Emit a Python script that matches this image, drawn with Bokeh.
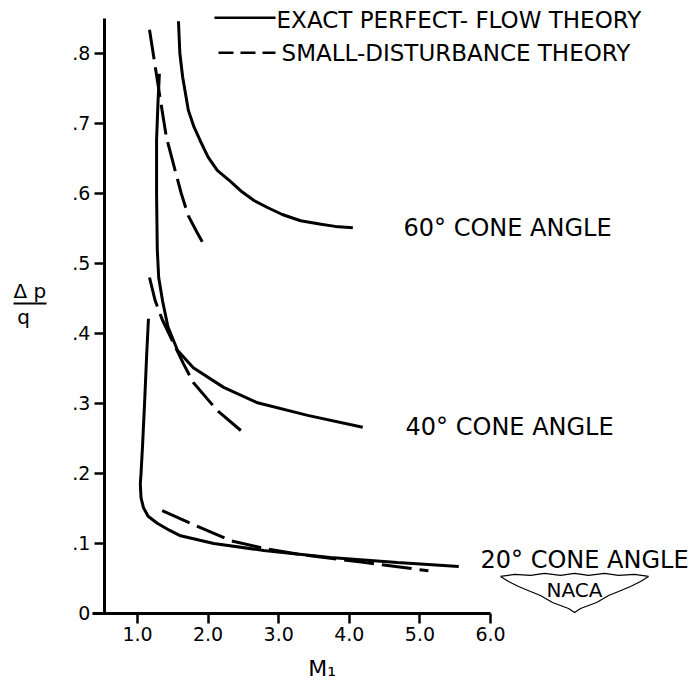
from bokeh.plotting import figure
from bokeh.models import Range1d, FixedTicker, PrintfTickFormatter, CustomJSTickFormatter, LinearAxis
from bokeh.core.properties import value
from bokeh.embed import file_html
from bokeh.resources import INLINE

# ---------------- data ----------------
# 60 deg cone
m60_exact = [1.58, 1.60, 1.64, 1.72, 1.80, 1.89, 2.00, 2.13, 2.32, 2.46, 2.65, 2.84, 3.05, 3.31, 3.60, 3.80, 4.05]
dp60_exact = [0.846, 0.80, 0.766, 0.719, 0.695, 0.675, 0.652, 0.633, 0.617, 0.604, 0.590, 0.580, 0.570, 0.561, 0.556, 0.553, 0.551]
m60_small = [1.17, 1.23, 1.33, 1.41, 1.54, 1.62, 1.72, 1.84, 1.95]
dp60_small = [0.834, 0.795, 0.730, 0.680, 0.630, 0.600, 0.568, 0.545, 0.525]

# 40 deg cone
m40_exact = [1.31, 1.29, 1.27, 1.27, 1.28, 1.30, 1.354, 1.43, 1.566, 1.79, 2.22, 2.70, 3.41, 4.19]
dp40_exact = [0.771, 0.73, 0.676, 0.60, 0.52, 0.48, 0.447, 0.41, 0.376, 0.351, 0.323, 0.301, 0.283, 0.266]
m40_small = [1.17, 1.25, 1.35, 1.51, 1.65, 1.79, 2.13, 2.55]
dp40_small = [0.48, 0.447, 0.42, 0.386, 0.357, 0.33, 0.29, 0.254]

# 20 deg cone
m20_exact = [1.155, 1.13, 1.10, 1.07, 1.05, 1.04, 1.05, 1.085, 1.15, 1.28, 1.45, 1.61, 2.08, 2.79, 3.73, 4.68, 5.55]
dp20_exact = [0.421, 0.37, 0.30, 0.237, 0.20, 0.185, 0.165, 0.151, 0.139, 0.129, 0.119, 0.111, 0.100, 0.090, 0.080, 0.073, 0.067]
m20_small = [1.35, 1.75, 2.32, 2.79, 3.26, 4.20, 5.12]
dp20_small = [0.147, 0.129, 0.104, 0.093, 0.085, 0.073, 0.061]

x_ticks = [1, 2, 3, 4, 5, 6]
y_ticks = [0, 0.1, 0.2, 0.3, 0.4, 0.5, 0.6, 0.7, 0.8]

legend_labels = ["EXACT PERFECT- FLOW THEORY", "SMALL-DISTURBANCE THEORY"]
cone_labels = ["60\u00b0 CONE ANGLE", "40\u00b0 CONE ANGLE", "20\u00b0 CONE ANGLE"]

# ---------------- figure ----------------
FONT = "DejaVu Sans"
SX = 70.6   # px per Mach unit
SY = 700.0  # px per unit dp/q

p = figure(width=693, height=682, output_backend="svg", toolbar_location=None,
           x_range=Range1d(-0.9405, 8.875), y_range=Range1d(-0.0986, 0.8757),
           x_axis_type=None, y_axis_type=None, min_border=0,
           outline_line_color=None, title=None)
p.background_fill_color = "white"
p.border_fill_color = "white"

def style_axis(ax):
    ax.axis_line_width = 3
    ax.axis_line_color = "black"
    ax.major_tick_line_width = 2.5
    ax.major_tick_line_color = "black"
    ax.major_tick_out = 10
    ax.major_tick_in = 0
    ax.minor_tick_out = 0
    ax.minor_tick_in = 0
    ax.major_label_text_font = FONT
    ax.major_label_text_font_size = "19px"
    ax.major_label_text_color = "black"
    ax.major_label_standoff = 4

xaxis = LinearAxis(fixed_location=0, bounds=(0.363, 6.0),
                   ticker=FixedTicker(ticks=x_ticks),
                   formatter=PrintfTickFormatter(format="%.1f"))
style_axis(xaxis)
p.add_layout(xaxis, "below")

yaxis = LinearAxis(fixed_location=0.53, bounds=(0, 0.85),
                   ticker=FixedTicker(ticks=y_ticks),
                   formatter=CustomJSTickFormatter(
                       code="return tick === 0 ? '0' : '.' + Math.round(tick * 10);"))
style_axis(yaxis)
p.add_layout(yaxis, "left")

# ---------------- curves ----------------
LW = 3
DASH = "30 8"
p.line(m60_exact, dp60_exact, line_color="black", line_width=LW)
p.line(m60_small, dp60_small, line_color="black", line_width=LW, line_dash=DASH)
p.line(m40_exact, dp40_exact, line_color="black", line_width=LW)
p.line(m40_small, dp40_small, line_color="black", line_width=LW, line_dash=DASH)
p.line(m20_exact, dp20_exact, line_color="black", line_width=LW)
p.line(m20_small, dp20_small, line_color="black", line_width=LW, line_dash=DASH)

# ---------------- legend (drawn as in the original) ----------------
p.line([2.09, 2.955], [0.851, 0.851], line_color="black", line_width=2.5)
p.line([2.147, 2.955], [0.801, 0.801], line_color="black", line_width=2.5, line_dash="15 7")
p.text(x=[2.97, 3.04], y=[0.848, 0.800], text=legend_labels,
       text_font=value(FONT), text_font_size="23px",
       text_baseline="middle", text_align="left", text_color="black")

# ---------------- cone angle labels ----------------
p.text(x=[4.768, 4.797, 5.858], y=[0.551, 0.266, 0.0757], text=cone_labels,
       text_font=value(FONT), text_font_size="24px",
       text_baseline="middle", text_align="left", text_color="black")

# ---------------- axis titles ----------------
p.text(x=[-0.756], y=[0.461], text=["\u0394 p"], text_font=value(FONT), text_font_size="20px",
       text_baseline="middle", text_align="left", text_color="black")
p.line([-0.756, -0.289], [0.443, 0.443], line_color="black", line_width=2)
p.text(x=[-0.615], y=[0.423], text=["q"], text_font=value(FONT), text_font_size="20px",
       text_baseline="middle", text_align="center", text_color="black")
p.text(x=[3.42], y=[-0.0786], text=["M\u2081"], text_font=value(FONT), text_font_size="22px",
       text_baseline="middle", text_align="left", text_color="black")

# ---------------- NACA wing logo (decoration) ----------------
cx, cy = 7.19, 0.0529   # top-centre of the wing
half = [(-74, 0), (-66, 5), (-56, 10), (-44, 15), (-34, 19), (-29, 22), (-22, 26), (-14, 29), (-6, 32), (0, 36)]
lower = half + [(-dx, dy) for dx, dy in reversed(half[:-1])]
upper = [(74, 0), (60, -2), (44, -1), (30, -3), (14, -1), (0, -3), (-14, -1), (-30, -3), (-44, -1), (-60, -2), (-74, 0)]
wing = lower + upper
p.line([cx + dx / SX for dx, dy in wing], [cy - dy / SY for dx, dy in wing],
       line_color="black", line_width=1.2)
p.text(x=[cx], y=[cy - 14 / SY], text=["NACA"], text_font=value(FONT), text_font_size="20px",
       text_baseline="middle", text_align="center", text_color="black")

open("out.html", "w").write(file_html(p, INLINE))
